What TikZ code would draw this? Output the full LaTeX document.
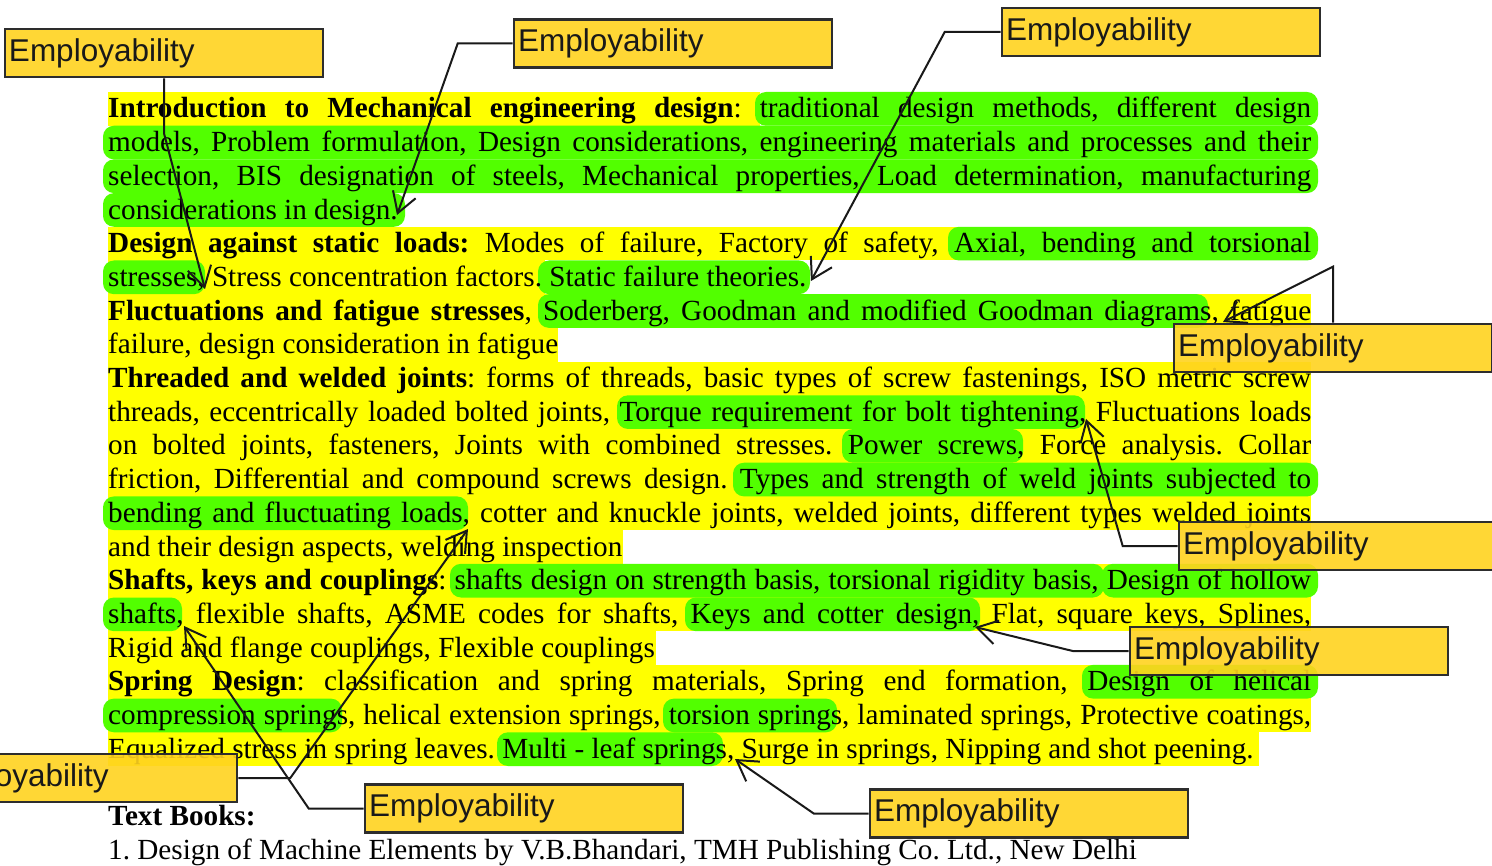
\documentclass[tikz,border=0pt]{standalone}
\usepackage{fontspec}
\setmainfont{Liberation Serif}
\newfontfamily\tagfont{Liberation Sans}
\usetikzlibrary{arrows.meta}
\frenchspacing

\definecolor{hlyellow}{RGB}{255,255,0}
\definecolor{hlgreen}{RGB}{82,255,0}
\definecolor{tagfill}{RGB}{255,211,32}
\definecolor{tagline}{RGB}{45,45,45}

% y of the top and bottom of the highlight band of text line #1
\newcommand\bandtop[1]{{118+(#1-1)*33.7-26}}
\newcommand\bandbot[1]{{118+(#1-1)*33.7+7.7}}
% yellow and green highlighter strokes: line, left x, right x
\newcommand\hlyel[3]{\fill[yband] (#2,\bandtop{#1}) rectangle (#3,\bandbot{#1});}
\newcommand\hlgrn[3]{\fill[gband] (#2,\bandtop{#1}) rectangle (#3,\bandbot{#1});}

\tikzset{
  yband/.style={fill=hlyellow},
  gband/.style={fill=hlgreen, rounded corners=11pt},
  txt/.style={anchor=base west, inner sep=0pt, font=\fontsize{29.2}{33.7}\selectfont},
  tag/.style={draw=tagline, line width=2.6pt, fill=tagfill, fill opacity=0.9,
    text opacity=1, minimum width=318pt, minimum height=48pt, text width=310pt,
    align=left, inner xsep=4pt, inner ysep=0pt, text=black!90,
    font=\tagfont\fontsize{31.5}{36}\selectfont},
  link/.style={draw=black!90, line width=2pt,
    -{Straight Barb[length=20pt,width=24pt]}}
}

\newcommand\jline[1]{\makebox[1203pt][s]{#1}}

\begin{document}
\begin{tikzpicture}[x=1pt, y=-1pt]
\useasboundingbox (0,0) rectangle (1492,866);
\clip (0,0) rectangle (1492,866);
\fill[white] (0,0) rectangle (1492,866);

% ---- yellow highlighting ----
\hlyel{1}{108}{760}
\hlyel{5}{108}{1311}
\hlyel{6}{108}{545}
\hlyel{7}{108}{1311}
\hlyel{8}{108}{558}
\hlyel{9}{108}{1311}
\hlyel{10}{108}{1311}
\hlyel{11}{108}{1311}
\hlyel{12}{108}{1311}
\hlyel{13}{108}{1311}
\hlyel{14}{108}{623}
\hlyel{15}{108}{1311}
\hlyel{16}{108}{1311}
\hlyel{17}{108}{656}
\hlyel{18}{108}{1311}
\hlyel{19}{108}{1311}
\hlyel{20}{108}{1259}

% ---- green highlighting ----
\hlgrn{1}{755}{1318}
\hlgrn{2}{103}{1318}
\hlgrn{3}{103}{1318}
\hlgrn{4}{103}{405}
\hlgrn{5}{948}{1318}
\hlgrn{6}{103}{205}
\hlgrn{6}{538}{810}
\hlgrn{7}{538}{1208}
\hlgrn{10}{617}{1085}
\hlgrn{11}{842}{1023}
\hlgrn{12}{733}{1318}
\hlgrn{13}{103}{468}
\hlgrn{15}{450}{1104}
\hlgrn{15}{1102}{1318}
\hlgrn{16}{103}{182}
\hlgrn{16}{685}{980}
\hlgrn{18}{1082}{1318}
\hlgrn{19}{103}{342}
\hlgrn{19}{663}{837}
\hlgrn{20}{497}{723}

% ---- syllabus text ----
\node[txt] (l1) at (108,118) {\jline{\textbf{Introduction to Mechanical engineering design}: traditional design methods, different design}};
\node[txt] (l2) at (108,151.7) {\jline{models, Problem formulation, Design considerations, engineering materials and processes and their}};
\node[txt] (l3) at (108,185.4) {\jline{selection, BIS designation of steels, Mechanical properties, Load determination, manufacturing}};
\node[txt] (l4) at (108,219.1) {considerations in design.};
\node[txt] (l5) at (108,252.8) {\jline{\textbf{Design against static loads:} Modes of failure, Factory of safety, Axial, bending and torsional}};
\node[txt] (l6) at (108,286.5) {stresses, Stress concentration factors. Static failure theories.};
\node[txt] (l7) at (108,320.2) {\jline{\textbf{Fluctuations and fatigue stresses}, Soderberg, Goodman and modified Goodman diagrams, fatigue}};
\node[txt] (l8) at (108,353.9) {failure, design consideration in fatigue};
\node[txt] (l9) at (108,387.6) {\jline{\textbf{Threaded and welded joints}: forms of threads, basic types of screw fastenings, ISO metric screw}};
\node[txt] (l10) at (108,421.3) {\jline{threads, eccentrically loaded bolted joints, Torque requirement for bolt tightening, Fluctuations loads}};
\node[txt] (l11) at (108,455) {\jline{on bolted joints, fasteners, Joints with combined stresses. Power screws, Force analysis. Collar}};
\node[txt] (l12) at (108,488.7) {\jline{friction, Differential and compound screws design. Types and strength of weld joints subjected to}};
\node[txt] (l13) at (108,522.4) {\jline{bending and fluctuating loads, cotter and knuckle joints, welded joints, different types welded joints}};
\node[txt] (l14) at (108,556.1) {and their design aspects, welding inspection};
\node[txt] (l15) at (108,589.8) {\jline{\textbf{Shafts, keys and couplings}: shafts design on strength basis, torsional rigidity basis, Design of hollow}};
\node[txt] (l16) at (108,623.5) {\jline{shafts, flexible shafts, ASME codes for shafts, Keys and cotter design, Flat, square keys, Splines,}};
\node[txt] (l17) at (108,657.2) {Rigid and flange couplings, Flexible couplings};
\node[txt] (l18) at (108,690.9) {\jline{\textbf{Spring Design}: classification and spring materials, Spring end formation, Design of helical}};
\node[txt] (l19) at (108,724.6) {\jline{compression springs, helical extension springs, torsion springs, laminated springs, Protective coatings,}};
\node[txt] (l20) at (108,758.3) {Equalized stress in spring leaves. Multi - leaf springs, Surge in springs, Nipping and shot peening.};
\node[txt] (tb) at (108,825.7) {\textbf{Text Books:}};
\node[txt] (tb1) at (108,859.4) {1. Design of Machine Elements by V.B.Bhandari, TMH Publishing Co. Ltd., New Delhi};

% ---- callout tags ----
\node[tag] (tagA) at (164,53) {Employability};
\node[tag] (tagB) at (673,43.5) {Employability};
\node[tag] (tagC) at (1161,32) {Employability};
\node[tag] (tagD) at (1333,348) {Employability};
\node[tag] (tagE) at (1338,546) {Employability};
\node[tag] (tagF) at (1289,651) {Employability};
\node[tag] (tagG) at (78,778) {Employability};
\node[tag] (tagH) at (524,808.5) {Employability};
\node[tag] (tagI) at (1029,813.5) {Employability};

% ---- arrow targets and elbows ----
\coordinate (t1) at (205,289);
\coordinate (t2) at (397,215);
\coordinate (t3) at (811,281);
\coordinate (t4) at (1223,322);
\coordinate (t5) at (1086,419);
\coordinate (t6) at (975,627);
\coordinate (t7) at (468,529);
\coordinate (t8) at (184,626);
\coordinate (t9) at (735,759);

\coordinate (k1) at ([yshift=-55pt]tagA.south);
\coordinate (k2) at ([xshift=-55pt]tagB.west);
\coordinate (k3) at ([xshift=-56pt]tagC.west);
\coordinate (k4) at ([yshift=56pt]tagD.north);
\coordinate (k5) at ([xshift=-55pt]tagE.west);
\coordinate (k6) at ([xshift=-56pt]tagF.west);
\coordinate (k7) at ([xshift=52pt]tagG.east);
\coordinate (k8) at ([xshift=-55pt]tagH.west);
\coordinate (k9) at ([xshift=-55pt]tagI.west);

% ---- connectors ----
\draw[link] (tagA.south) -- (k1) -- (t1);
\draw[link] (tagB.west) -- (k2) -- (t2);
\draw[link] (tagC.west) -- (k3) -- (t3);
\draw[link] (tagD.north) -- (k4) -- (t4);
\draw[link] (tagE.west) -- (k5) -- (t5);
\draw[link] (tagF.west) -- (k6) -- (t6);
\draw[link] (tagG.east) -- (k7) -- (t7);
\draw[link] (tagH.west) -- (k8) -- (t8);
\draw[link] (tagI.west) -- (k9) -- (t9);
\end{tikzpicture}
\end{document}
